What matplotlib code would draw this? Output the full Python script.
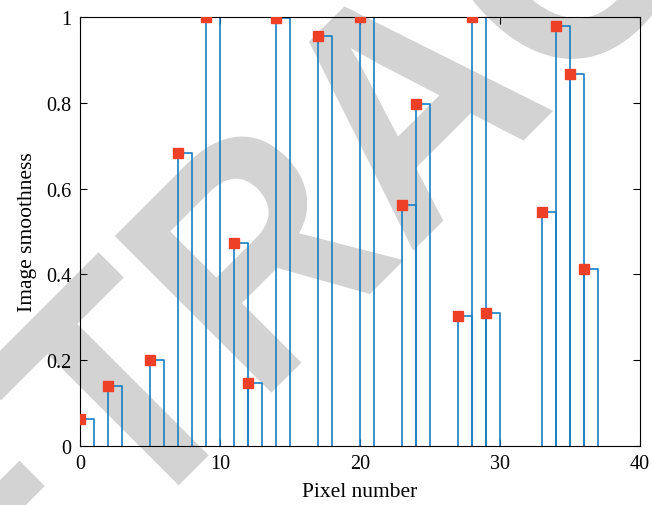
import numpy as np
import matplotlib.pyplot as plt
from matplotlib.textpath import TextPath
from matplotlib.font_manager import FontProperties
from matplotlib.patches import PathPatch
from matplotlib.transforms import Affine2D

# pixel index and smoothness value
pixel = [0, 2, 5, 7, 9, 11, 12, 14, 17, 20, 23, 24, 27, 28, 29, 33, 34, 35, 36]
smooth = [0.063, 0.141, 0.201, 0.683, 1.0, 0.474, 0.147, 0.998, 0.955, 1.0,
          0.562, 0.798, 0.302, 1.0, 0.310, 0.546, 0.980, 0.866, 0.413]

plt.rcParams['font.family'] = 'Liberation Serif'
plt.rcParams['font.size'] = 14.5

fig = plt.figure(figsize=(6.52, 5.06), dpi=100)
ax = fig.add_axes([0.1227, 0.1166, 0.8589, 0.8478])
ax.set_facecolor('none')

# grey diagonal watermark, placed in pixel units behind the axes
sx, sy = 295, 322
tp = TextPath((0, 0), 'RETRACTED', size=1,
              prop=FontProperties(family='Liberation Sans', weight='bold'))
shift = 2.722 * sx * np.cos(np.radians(45))
wm = Affine2D().scale(sx, sy).rotate_deg(45).translate(408 - shift, 249 - shift)
fig.add_artist(PathPatch(tp, transform=wm, facecolor='#d3d3d3',
                         edgecolor='none', zorder=-1))

blue = '#1a7fc4'
for x, y in zip(pixel, smooth):
    ax.plot([x, x, x + 1, x + 1], [0, y, y, 0], color=blue, lw=1.2)
ax.plot(pixel, smooth, 's', color='#ee4026', markersize=7, ls='none', zorder=5)

ax.set_xlim(0, 40)
ax.set_ylim(0, 1)
ax.set_xticks([0, 10, 20, 30, 40])
ax.set_yticks([0, 0.2, 0.4, 0.6, 0.8, 1])
ax.set_yticklabels(['0', '0.2', '0.4', '0.6', '0.8', '1'])
ax.tick_params(direction='in', top=True, right=True, length=5, pad=6)
ax.set_xlabel('Pixel number', fontsize=15.5, labelpad=6)
ax.set_ylabel('Image smoothness', fontsize=15.5, labelpad=7)

fig.savefig('out.png', dpi=100)
